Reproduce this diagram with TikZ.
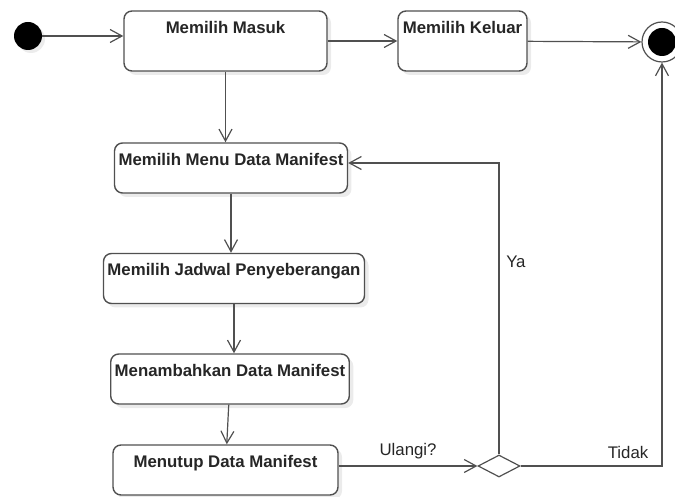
\documentclass[tikz,border=0pt]{standalone}
\usepackage{fontspec}
\setmainfont{Liberation Sans}
\usepackage{tikz}
\usetikzlibrary{arrows.meta, shapes.geometric, shadows}
\definecolor{garis}{RGB}{80, 80, 80}

\begin{document}
\begin{tikzpicture}[x=0.5pt, y=-0.5pt, every node/.style={font=\fontsize{8.4}{10}\selectfont, text=black!85},
  aksi/.style={draw=garis, line width=0.7pt, rounded corners=4pt, fill=white,
    font=\fontsize{8.4}{10}\selectfont\bfseries, inner xsep=2pt, inner ysep=5.25pt,
    text height=6pt, text depth=8.5pt,
    drop shadow={shadow xshift=2pt, shadow yshift=-2pt, opacity=0.2, fill=black!40}},
  panah/.style={draw=garis, line width=0.6pt, -{Straight Barb[length=6pt, width=6.5pt]}}]
  \useasboundingbox (0,0) rectangle (675,497);
  \node[circle, fill=black, minimum size=14pt, inner sep=0pt,
    drop shadow={shadow xshift=1.5pt, shadow yshift=-1.5pt, opacity=0.15}] (mulai) at (28,36) {};
  \node[aksi, minimum width=101.5pt, text depth=13.5pt] (masuk) at (225.5,41) {Memilih Masuk};
  \node[aksi, minimum width=64.5pt, text depth=13.5pt] (keluar) at (462.5,41) {Memilih Keluar};
  \node[circle, draw=garis, line width=0.6pt, minimum size=20pt, inner sep=0pt,
    path picture={\fill[black] (path picture bounding box.center) circle (7pt);}] (akhir) at (662,42) {};
  \node[aksi, minimum width=116pt] (menu) at (231,168) {Memilih Menu Data Manifest};
  \node[aksi, minimum width=129pt] (jadwal) at (234,278.5) {Memilih Jadwal Penyeberangan};
  \node[aksi, minimum width=117pt] (tambah) at (230,379) {Menambahkan Data Manifest};
  \node[aksi, minimum width=112.5pt] (tutup) at (225.5,470) {Menutup Data Manifest};
  \node[diamond, draw=garis, line width=0.6pt, minimum width=21pt, minimum height=11pt, inner sep=0pt] (pilih) at (499,466) {};
  \draw[panah] (mulai) -- (masuk.west |- mulai);
  \draw[panah] (masuk) -- (keluar);
  \draw[panah] (keluar) -- (akhir);
  \draw[panah] (masuk.south) -- (masuk.south |- menu.north);
  \draw[panah] (menu) -- (menu |- jadwal.north);
  \draw[panah] (jadwal) -- (jadwal |- tambah.north);
  \draw[panah] (tambah) -- (tutup);
  \draw[panah] (tutup.east |- pilih) -- (pilih.west) node[midway, above] {Ulangi?};
  \draw[panah] (pilih.north) |- ([yshift=2.5pt]menu.east) node[pos=0.33, right] {Ya};
  \draw[panah] (pilih.east) -| (akhir.south) node[pos=0.38, above] {Tidak};
\end{tikzpicture}
\end{document}
